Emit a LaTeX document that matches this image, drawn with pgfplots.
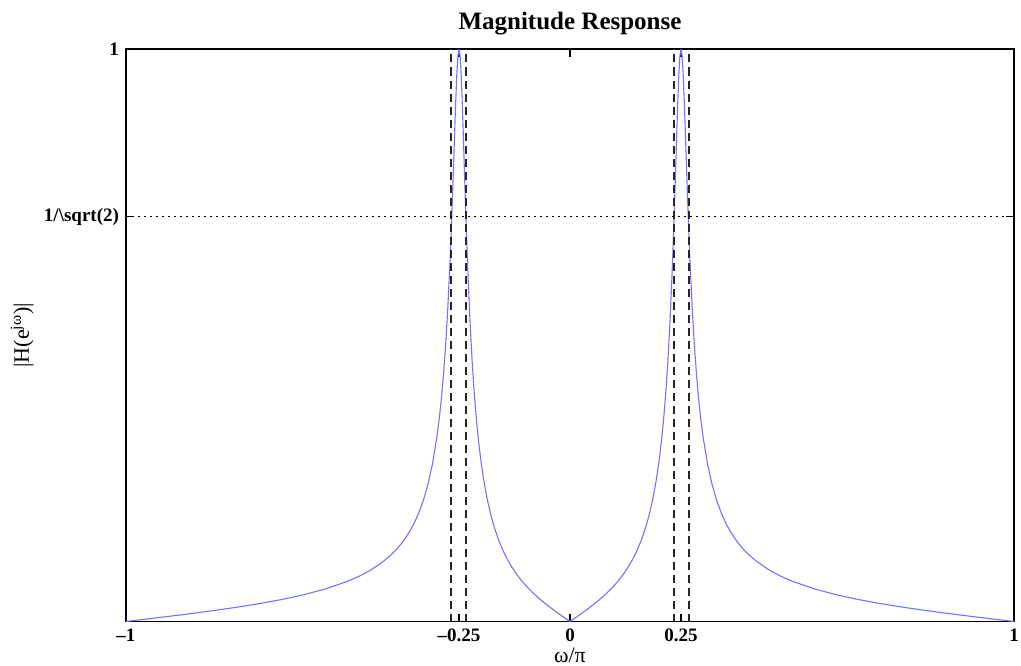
\documentclass[border=0pt]{standalone}
\usepackage{pgfplots}
\pgfplotsset{compat=1.18}
\usepackage{fontspec}
\setmainfont{Liberation Serif}
\definecolor{curve}{RGB}{115,115,255}
\begin{document}
\begin{tikzpicture}
\begin{axis}[
  at={(0,0)}, anchor=south west,
  scale only axis, width=444pt, height=286.25pt,
  xmin=-1, xmax=1, ymin=0, ymax=1,
  xtick={-1,-0.25,0,0.25,1},
  xticklabels={\textendash1,\textendash0.25,0,0.25,1},
  ytick={0.70711,1},
  yticklabels={1/\textbackslash sqrt(2),1},
  tick align=inside, major tick length=4pt,
  tick style={black, line width=0.6pt},
  axis line style={line width=0.8pt},
  ticklabel style={font=\fontsize{9.5}{11}\selectfont\bfseries},
  title={Magnitude Response},
  title style={font=\fontsize{12.5}{14}\selectfont\bfseries, at={(axis description cs:0.5,1.0472)}, anchor=center, yshift=-7pt},
  xlabel={ω/π},
  xlabel style={font=\fontsize{11}{13}\selectfont, at={(axis description cs:0.5,-0.0594)}, anchor=center},
  ylabel={|H(e\textsuperscript{jω})|},
  ylabel style={font=\fontsize{11}{13}\selectfont, at={(axis description cs:-0.117,0.5)}, anchor=center},
]
\addplot[curve, line width=0.55pt, line join=round] coordinates {
(-1,0) (-0.95,0.00461) (-0.90,0.00932) (-0.85,0.0142) (-0.80,0.0194) (-0.75,0.0250)
(-0.70,0.0312) (-0.65,0.0383) (-0.60,0.0467) (-0.55,0.0571) (-0.50,0.0705) (-0.475,0.0790) (-0.45,0.0893)
(-0.42,0.1051) (-0.40,0.1186) (-0.39,0.1267) (-0.38,0.1359) (-0.37,0.1464) (-0.36,0.1588) (-0.35,0.1733)
(-0.34,0.1908) (-0.33,0.2123) (-0.32,0.2393) (-0.31,0.2742) (-0.30,0.3211) (-0.295,0.3509)
(-0.29,0.3868) (-0.285,0.4303) (-0.28,0.4838) (-0.275,0.5505) (-0.27,0.6336) (-0.2675,0.6821) (-0.265,0.7352)
(-0.2625,0.7919) (-0.26,0.8503) (-0.2575,0.9064) (-0.255,0.9546) (-0.2525,0.9880) (-0.25,1)
(-0.2475,0.9882) (-0.245,0.9533) (-0.2425,0.9026) (-0.24,0.8428) (-0.2375,0.7802) (-0.235,0.7191)
(-0.2325,0.6619) (-0.23,0.6096) (-0.225,0.5203) (-0.22,0.4491) (-0.215,0.3922) (-0.21,0.3462)
(-0.205,0.3085) (-0.20,0.2771) (-0.195,0.2507) (-0.19,0.2281) (-0.185,0.2086) (-0.18,0.1916) (-0.175,0.1767)
(-0.17,0.1634) (-0.165,0.1516) (-0.16,0.1409) (-0.15,0.1225) (-0.14,0.1071) (-0.13,0.0939) (-0.12,0.0824)
(-0.11,0.0723) (-0.10,0.0632) (-0.09,0.0550) (-0.08,0.0475)
(-0.07,0.04054) (-0.06,0.03403) (-0.05,0.02787) (-0.04,0.02198) (-0.03,0.01631) (-0.02,0.01079)
(-0.01,0.00537) (0,0)
(0.01,0.00537) (0.02,0.01079) (0.03,0.01631) (0.04,0.02198) (0.05,0.02787) (0.06,0.03403)
(0.07,0.04054) (0.08,0.0475) (0.09,0.0550) (0.10,0.0632) (0.11,0.0723) (0.12,0.0824) (0.13,0.0939)
(0.14,0.1071) (0.15,0.1225) (0.16,0.1409) (0.165,0.1516) (0.17,0.1634) (0.175,0.1767) (0.18,0.1916)
(0.185,0.2086) (0.19,0.2281) (0.195,0.2507) (0.20,0.2771)
(0.205,0.3085) (0.21,0.3462) (0.215,0.3922) (0.22,0.4491) (0.225,0.5203) (0.23,0.6096)
(0.2325,0.6619) (0.235,0.7191) (0.2375,0.7802) (0.24,0.8428) (0.2425,0.9026) (0.245,0.9533)
(0.2475,0.9882) (0.25,1) (0.2525,0.9880) (0.255,0.9546) (0.2575,0.9064) (0.26,0.8503)
(0.2625,0.7919) (0.265,0.7352) (0.2675,0.6821) (0.27,0.6336) (0.275,0.5505) (0.28,0.4838)
(0.285,0.4303) (0.29,0.3868) (0.295,0.3509) (0.30,0.3211) (0.31,0.2742) (0.32,0.2393) (0.33,0.2123)
(0.34,0.1908) (0.35,0.1733) (0.36,0.1588) (0.37,0.1464) (0.38,0.1359) (0.39,0.1267)
(0.40,0.1186) (0.42,0.1051) (0.45,0.0893) (0.475,0.0790) (0.50,0.0705) (0.55,0.0571) (0.60,0.0467) (0.65,0.0383)
(0.70,0.0312) (0.75,0.0250) (0.80,0.0194) (0.85,0.0142) (0.90,0.00932) (0.95,0.00461) (1,0)
};
\addplot[black!85, line width=0.75pt, dash pattern=on 4pt off 2.5pt] coordinates {(-0.2675,0) (-0.2675,1)};
\addplot[black!85, line width=0.75pt, dash pattern=on 4pt off 2.5pt] coordinates {(-0.2345,0) (-0.2345,1)};
\addplot[black!85, line width=0.75pt, dash pattern=on 4pt off 2.5pt] coordinates {(0.2345,0) (0.2345,1)};
\addplot[black!85, line width=0.75pt, dash pattern=on 4pt off 2.5pt] coordinates {(0.2675,0) (0.2675,1)};
\addplot[black, line width=0.7pt, dash pattern=on 0.8pt off 2.2pt] coordinates {(-1,0.70711) (1,0.70711)};
\end{axis}
\pgfresetboundingbox
\path (-63pt,-21.75pt) rectangle (447.5pt,310.75pt);
\end{tikzpicture}
\end{document}
